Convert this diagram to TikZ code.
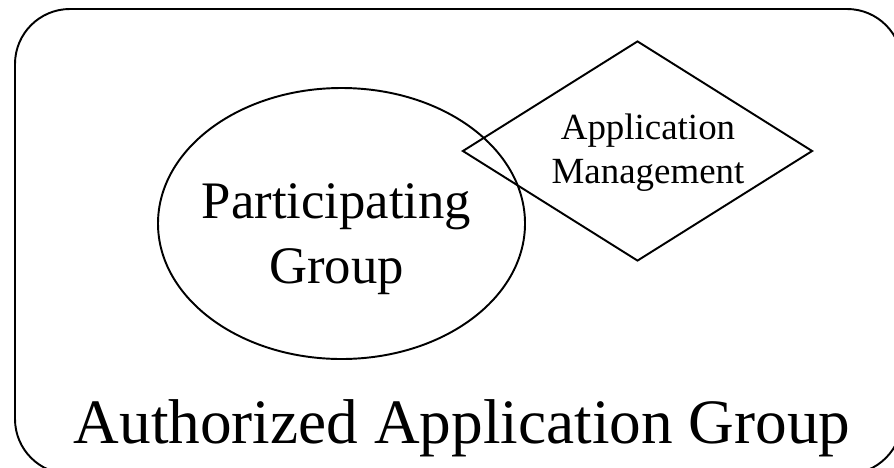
\documentclass[tikz,border=0pt]{standalone}
\usepackage{fontspec}
\setmainfont{Liberation Serif}
\usetikzlibrary{shapes.geometric}

\tikzset{
  outline/.style={draw=black, line width=1.1pt},
  grouptext/.style={align=center, inner sep=0pt}
}

\begin{document}
\begin{tikzpicture}[every node/.style={font=\normalsize}]
  \useasboundingbox (0,0) rectangle (17.88,9.34);
  \clip (0,0) rectangle (17.88,9.34);
  % outer group
  \draw[outline, rounded corners=1.1cm] (0.30,-0.14) rectangle (18.04,9.16);
  \node[grouptext, anchor=base, font=\fontsize{36}{43}\selectfont] (authgroup) at (9.24,0.48) {Authorized Application Group};
  % participating group
  \node[outline, ellipse, minimum width=7.34cm, minimum height=5.42cm, inner sep=0pt] (partshape) at (6.83,4.87) {};
  \node[grouptext, font=\fontsize{30}{37}\selectfont] (parttext) at (6.73,4.56) {Participating\\Group};
  % application management
  \node[outline, diamond, minimum width=7.0cm, minimum height=4.4cm, inner sep=0pt] (mgmtshape) at (12.75,6.32) {};
  \node[grouptext, font=\fontsize{21}{25}\selectfont] (mgmttext) at (12.96,6.29) {Application\\Management};
\end{tikzpicture}
\end{document}
